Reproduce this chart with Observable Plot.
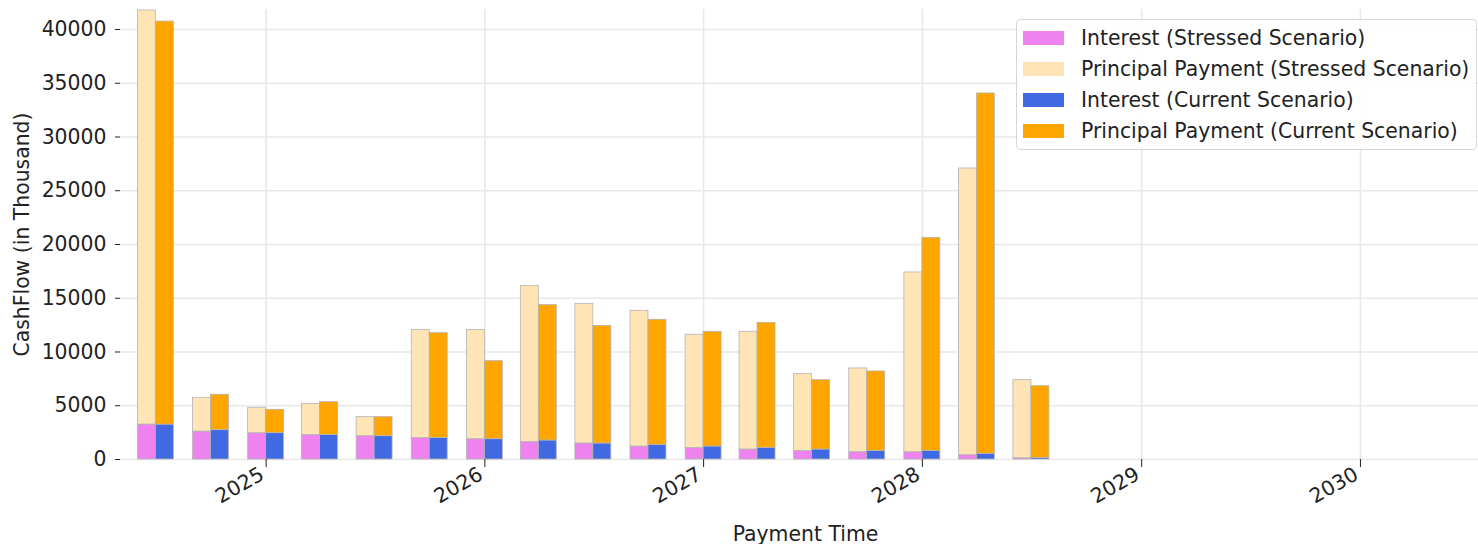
<!DOCTYPE html>
<html>
<head>
<meta charset="utf-8">
<script src="https://cdn.jsdelivr.net/npm/d3@7"></script>
<script src="https://cdn.jsdelivr.net/npm/@observablehq/plot@0.6"></script>
<style>
  html, body { margin: 0; padding: 0; background: #fff; }
  #wrap { position: relative; width: 1478px; height: 544px; overflow: hidden; font-family: "DejaVu Sans", sans-serif; }
  #legend { position: absolute; left: 1016px; top: 19px; width: 461px; height: 131px; box-sizing: border-box;
    border: 1px solid #d6d6d6; border-radius: 4px; background: rgba(255,255,255,0.85); padding: 2px 0 0 6px; }
  .row { display: flex; align-items: center; height: 31px; font-size: 20.4px; color: #222; white-space: nowrap; }
  .sw { width: 41px; height: 14px; margin-right: 17px; }
</style>
</head>
<body>
<div id="wrap"></div>
<script>
// ---- data ----
const paymentDates = ["2024-07-01","2024-10-01","2025-01-01","2025-04-01","2025-07-01","2025-10-01","2026-01-01","2026-04-01","2026-07-01","2026-10-01","2027-01-01","2027-04-01","2027-07-01","2027-10-01","2028-01-01","2028-04-01","2028-07-01"];
const stressedInterest  = [3250, 2600, 2450, 2290, 2170, 2010, 1890, 1640, 1490, 1210, 1080, 930, 800, 680, 680, 400, 120];
const stressedPrincipal = [38520, 3140, 2360, 2890, 1770, 10050, 10170, 14510, 12990, 12620, 10520, 10950, 7140, 7790, 16720, 26670, 7260];
const currentInterest   = [3250, 2730, 2450, 2290, 2170, 2010, 1890, 1770, 1490, 1360, 1210, 1080, 930, 800, 800, 530, 130];
const currentPrincipal  = [37490, 3290, 2170, 3040, 1770, 9740, 7260, 12590, 10940, 11640, 10670, 11630, 6450, 7390, 19820, 33520, 6690];
const yTicks = [0, 5000, 10000, 15000, 20000, 25000, 30000, 35000, 40000];
const seriesNames = ["Interest (Stressed Scenario)", "Principal Payment (Stressed Scenario)", "Interest (Current Scenario)", "Principal Payment (Current Scenario)"];
const seriesColors = ["#EE82EE", "#FFE4B5", "#4169E1", "#FFA500"];

// ---- build table ----
const barDays = 30;
const rows = [];
paymentDates.forEach((s, i) => {
  const d = new Date(s + "T00:00:00Z");
  const left = d3.utcDay.offset(d, -barDays), right = d3.utcDay.offset(d, barDays);
  rows.push({x1: left, x2: d, y1: 0, y2: stressedInterest[i], s: seriesNames[0]});
  rows.push({x1: left, x2: d, y1: stressedInterest[i], y2: stressedInterest[i] + stressedPrincipal[i], s: seriesNames[1]});
  rows.push({x1: d, x2: right, y1: 0, y2: currentInterest[i], s: seriesNames[2]});
  rows.push({x1: d, x2: right, y1: currentInterest[i], y2: currentInterest[i] + currentPrincipal[i], s: seriesNames[3]});
});
const years = d3.utcYear.range(new Date("2025-01-01T00:00:00Z"), new Date("2030-06-01T00:00:00Z"));

const chart = Plot.plot({
  width: 1478,
  height: 544,
  marginLeft: 120,
  marginRight: 0,
  marginTop: 9,
  marginBottom: 85,
  style: {fontFamily: "DejaVu Sans, sans-serif", fontSize: "20px", color: "#222", background: "#fff"},
  x: {type: "utc", domain: [new Date("2024-05-03T00:00:00Z"), new Date("2030-07-17T00:00:00Z")]},
  y: {domain: [0, 41860]},
  color: {domain: seriesNames, range: seriesColors},
  marks: [
    Plot.gridY(yTicks, {stroke: "#e8e8e8", strokeOpacity: 1, strokeWidth: 1.6}),
    Plot.gridX(years, {stroke: "#e8e8e8", strokeOpacity: 1, strokeWidth: 1.6}),
    Plot.rect(rows, {x1: "x1", x2: "x2", y1: "y1", y2: "y2", fill: "s", stroke: "#b4b4b4", strokeWidth: 0.8}),
    Plot.axisY(yTicks, {tickSize: 5, tickPadding: 9, tickFormat: d => String(d), label: "CashFlow (in Thousand)", labelAnchor: "center", labelArrow: "none", labelOffset: 106, fontSize: 20.4}),
    Plot.axisX(years, {tickSize: 8, text: null, label: null}),
    Plot.axisX(years, {tickSize: 0, tickPadding: 13, dx: -4, tickFormat: d3.utcFormat("%Y"), tickRotate: -30, label: null, fontSize: 20.4}),
    Plot.text(["Payment Time"], {frameAnchor: "bottom", dy: 81, dx: 6, fontSize: 20.4, fill: "#222"})
  ]
});

const wrap = document.getElementById("wrap");
wrap.appendChild(chart);
const legend = document.createElement("div");
legend.id = "legend";
seriesNames.forEach((n, i) => {
  const r = document.createElement("div");
  r.className = "row";
  r.innerHTML = `<span class="sw" style="background:${seriesColors[i]}"></span><span>${n}</span>`;
  legend.appendChild(r);
});
wrap.appendChild(legend);
</script>
</body>
</html>
